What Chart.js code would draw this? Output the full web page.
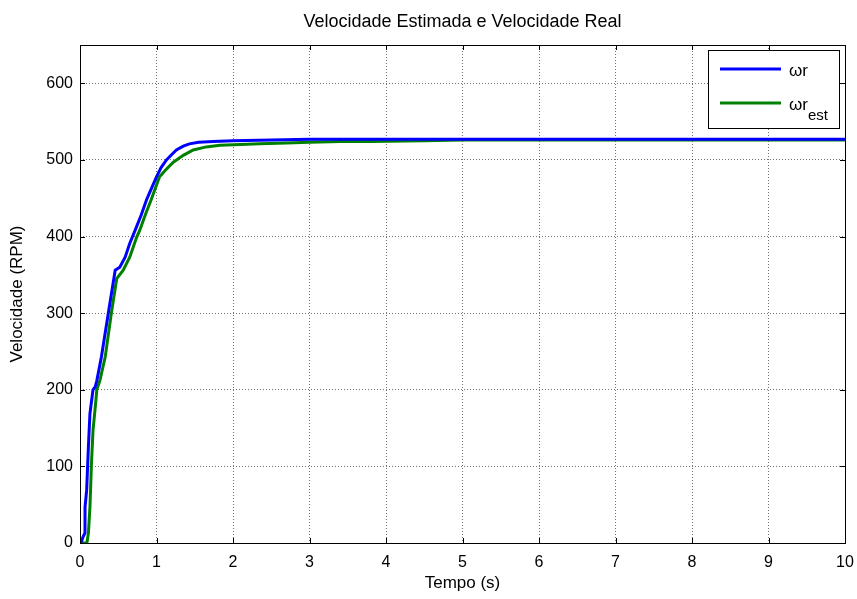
<!DOCTYPE html>
<html>
<head>
<meta charset="utf-8">
<script src="https://cdn.jsdelivr.net/npm/chart.js@4.4.1/dist/chart.umd.min.js"></script>
<style>
  html, body { margin: 0; padding: 0; background: #fff; }
  #wrap { width: 857px; height: 599px; }
</style>
</head>
<body>
<div id="wrap"><canvas id="speedChart" width="857" height="599"></canvas></div>
<script>
// velocidade real (ωr)
const timeReal = [0, 0.02, 0.04, 0.065, 0.066, 0.087, 0.11, 0.13, 0.17, 0.2, 0.22, 0.28, 0.37, 0.46, 0.52, 0.59, 0.65, 0.72,
  0.8, 0.87, 0.93, 1.0, 1.06, 1.13, 1.2, 1.26, 1.35, 1.43, 1.55, 1.74, 2.0, 2.5, 3, 4, 5, 6, 7, 8, 9, 10];
const speedReal = [0, 2, 8, 13, 47, 69, 126, 169, 200, 204, 212, 243, 300, 356, 360, 373, 391, 408,
  428, 448, 462, 478, 490, 500, 507, 513, 518, 521, 523, 524, 525, 526, 527, 527, 527, 527, 527, 527, 527, 527];

// velocidade estimada (ωr_est)
const timeEst = [0, 0.09, 0.11, 0.13, 0.15, 0.17, 0.2, 0.22, 0.26, 0.33, 0.41, 0.48, 0.565, 0.65, 0.74, 0.78, 0.86, 0.93,
  1.04, 1.13, 1.22, 1.35, 1.48, 1.65, 1.83, 2.1, 2.35, 2.7, 3.0, 3.4, 3.8, 4.5, 5, 6, 7, 8, 9, 10];
const speedEst = [0, 0, 13, 47, 104, 147, 178, 200, 212, 243, 300, 345, 356, 373, 399, 408, 430, 448,
  478, 488, 497, 506, 513, 517, 519, 520, 521, 522, 523, 524, 524, 525, 526, 526, 526, 526, 526, 526];

const xTicks = [0, 1, 2, 3, 4, 5, 6, 7, 8, 9, 10];
const yTicks = [0, 100, 200, 300, 400, 500, 600];

const FONT = "'Liberation Sans', Arial, Helvetica, sans-serif";

function toPoints(xs, ys) {
  return xs.map((x, i) => ({ x: x, y: ys[i] }));
}

// caixa, marcas internas, título e legenda no estilo MATLAB
const matlabFrame = {
  id: 'matlabFrame',
  afterDraw(chart) {
    const { ctx, chartArea: a, scales } = chart;
    const L = 5;
    ctx.save();
    ctx.strokeStyle = '#000';
    ctx.lineWidth = 1;
    ctx.beginPath();
    xTicks.forEach(v => {
      const px = Math.round(scales.x.getPixelForValue(v)) + 0.5;
      ctx.moveTo(px, a.bottom); ctx.lineTo(px, a.bottom - L);
      ctx.moveTo(px, a.top); ctx.lineTo(px, a.top + L);
    });
    yTicks.forEach(v => {
      const py = Math.round(scales.y.getPixelForValue(v)) + 0.5;
      ctx.moveTo(a.left, py); ctx.lineTo(a.left + L, py);
      ctx.moveTo(a.right, py); ctx.lineTo(a.right - L, py);
    });
    ctx.stroke();
    ctx.strokeRect(Math.round(a.left) + 0.5, Math.round(a.top) + 0.5,
      Math.round(a.right - a.left), Math.round(a.bottom - a.top));

    // título
    ctx.fillStyle = '#000';
    ctx.font = '18px ' + FONT;
    ctx.textAlign = 'center';
    ctx.textBaseline = 'middle';
    ctx.fillText('Velocidade Estimada e Velocidade Real', (a.left + a.right) / 2, 22);

    // legenda
    const bx = 708, by = 50, bw = 131, bh = 78;
    ctx.fillStyle = '#fff';
    ctx.fillRect(bx, by, bw, bh);
    ctx.strokeRect(bx + 0.5, by + 0.5, bw, bh);
    const rows = [
      { color: chart.data.datasets[0].borderColor, y: 69, main: 'ωr', sub: '' },
      { color: chart.data.datasets[1].borderColor, y: 103, main: 'ωr', sub: 'est' }
    ];
    rows.forEach(r => {
      ctx.strokeStyle = r.color;
      ctx.lineWidth = 3;
      ctx.beginPath();
      ctx.moveTo(720, r.y); ctx.lineTo(781, r.y);
      ctx.stroke();
      ctx.fillStyle = '#000';
      ctx.textAlign = 'left';
      ctx.font = '17px ' + FONT;
      ctx.fillText(r.main, 789, r.y + 2);
      if (r.sub) {
        const w = ctx.measureText(r.main).width;
        ctx.font = '15px ' + FONT;
        ctx.fillText(r.sub, 789 + w, r.y + 13);
      }
    });
    ctx.restore();
  }
};

const ctx = document.getElementById('speedChart').getContext('2d');
const chart = new Chart(ctx, {
  type: 'line',
  data: {
    datasets: [
      {
        label: 'ωr',
        data: toPoints(timeReal, speedReal),
        borderColor: '#0000ff',
        borderWidth: 3
      },
      {
        label: 'ωr_est',
        data: toPoints(timeEst, speedEst),
        borderColor: '#008000',
        borderWidth: 3
      }
    ]
  },
  options: {
    responsive: false,
    animation: false,
    parsing: false,
    elements: { point: { radius: 0 }, line: { tension: 0 } },
    layout: { padding: { top: 45, right: 12, bottom: 0, left: 0 } },
    plugins: {
      legend: { display: false },
      title: { display: false },
      tooltip: { enabled: false }
    },
    scales: {
      x: {
        type: 'linear',
        min: 0,
        max: 10,
        afterFit: s => { s.height = 56; s.paddingLeft = 0; s.paddingRight = 0; },
        afterBuildTicks: s => { s.ticks = xTicks.map(v => ({ value: v })); },
        ticks: { color: '#000', padding: 10, font: { family: FONT, size: 16 } },
        grid: { color: 'rgba(0,0,0,0.55)', drawTicks: false },
        border: { display: false, dash: [1, 2] },
        title: {
          display: true,
          text: 'Tempo (s)',
          color: '#000',
          font: { family: FONT, size: 17 },
          padding: { top: 0, bottom: 5 }
        }
      },
      y: {
        min: 0,
        max: 650,
        afterFit: s => { s.width = 80; },
        afterBuildTicks: s => { s.ticks = yTicks.map(v => ({ value: v })); },
        ticks: { color: '#000', padding: 7, font: { family: FONT, size: 16 } },
        grid: { color: 'rgba(0,0,0,0.55)', drawTicks: false },
        border: { display: false, dash: [1, 2] },
        title: {
          display: true,
          text: 'Velocidade (RPM)',
          color: '#000',
          font: { family: FONT, size: 17 },
          padding: { top: 7, bottom: 0 }
        }
      }
    }
  },
  plugins: [matlabFrame]
});
</script>
</body>
</html>
